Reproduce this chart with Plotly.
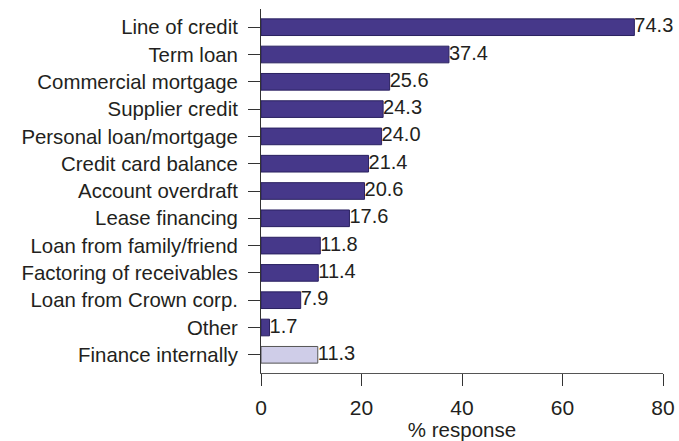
import plotly.graph_objects as go

categories = [
    "Line of credit", "Term loan", "Commercial mortgage", "Supplier credit",
    "Personal loan/mortgage", "Credit card balance", "Account overdraft",
    "Lease financing", "Loan from family/friend", "Factoring of receivables",
    "Loan from Crown corp.", "Other", "Finance internally",
]
values = [74.3, 37.4, 25.6, 24.3, 24.0, 21.4, 20.6, 17.6, 11.8, 11.4, 7.9, 1.7, 11.3]
x_ticks = [0, 20, 40, 60, 80]

dark = "#46388a"
light = "#cfcde8"
fill = [light if c == "Finance internally" else dark for c in categories]
edge = ["#555555" if c == "Finance internally" else "#2a2160" for c in categories]
ink = "#231f20"

fig = go.Figure()
fig.add_trace(go.Bar(
    y=categories, x=values, orientation="h",
    marker=dict(color=fill, line=dict(color=edge, width=1)),
    hoverinfo="skip",
))
fig.add_trace(go.Scatter(
    y=categories, x=values, mode="text",
    text=[f"{v:.1f}" for v in values],
    textposition="middle right",
    textfont=dict(size=20, color=ink, family="Liberation Sans, Arial"),
    cliponaxis=False, hoverinfo="skip",
))

fig.update_layout(
    width=679, height=441,
    margin=dict(l=261, r=16, t=9, b=68),
    plot_bgcolor="white", paper_bgcolor="white",
    showlegend=False, bargap=0.39,
    font=dict(family="Liberation Sans, Arial", size=20, color=ink),
    xaxis=dict(
        range=[0, 80], tickvals=x_ticks, ticks="outside", ticklen=12,
        tickcolor="#333333", showline=True, linecolor="#555555", linewidth=1,
        showgrid=False, zeroline=False, fixedrange=True, automargin=False,
        tickfont=dict(size=21), ticklabelstandoff=4,
        title=dict(text="% response", font=dict(size=20.5), standoff=9),
    ),
    yaxis=dict(
        autorange="reversed", ticks="outside", ticklen=12, tickcolor="#333333",
        showline=True, linecolor="#333333", linewidth=1, showgrid=False,
        automargin=False, tickfont=dict(size=20.4), ticklabelstandoff=6,
    ),
)

fig.write_html("out.html")
